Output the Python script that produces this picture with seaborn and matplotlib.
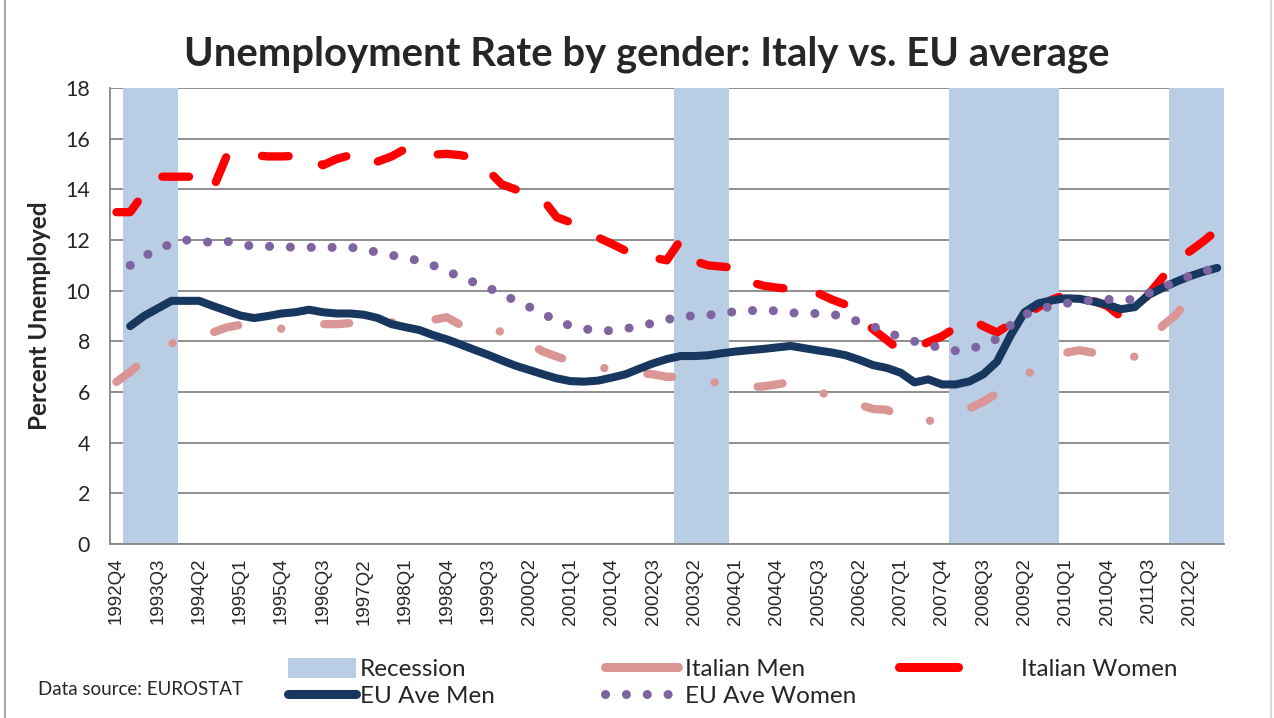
import numpy as np
import pandas as pd
import matplotlib.pyplot as plt
import seaborn as sns
from matplotlib.lines import Line2D
from matplotlib.patches import Patch

sns.set_style("white")
plt.rcParams['font.family'] = ['Lato', 'DejaVu Sans']

# quarters 1992Q4 .. 2012Q4
quarters = ["1992Q4"] + [f"{y}Q{q}" for y in range(1993, 2013) for q in range(1, 5)]

recession_periods = [("1993Q1", "1993Q4"), ("2003Q1", "2003Q4"),
                     ("2008Q1", "2009Q4"), ("2012Q1", "2012Q4")]

italian_men = [6.4, 6.8, 7.25, 7.6, 7.9, 8.15, 8.3, 8.35, 8.55, 8.65,
               8.55, 8.55, 8.5, 8.5, 8.6, 8.68, 8.68, 8.72, 8.78, 8.8,
               8.75, 8.75, 8.8, 8.85, 8.95, 8.65, 8.35, 8.35, 8.4, 8.2,
               7.9, 7.6, 7.4, 7.22, 7.1, 7.0, 6.88, 6.8, 6.75, 6.7,
               6.6, 6.6, 6.6, 6.45, 6.3, 6.25, 6.2, 6.22, 6.3, 6.4,
               6.2, 6.0, 5.85, 5.7, 5.5, 5.33, 5.3, 5.0, 4.8, 4.85,
               4.97, 5.15, 5.35, 5.62, 5.95, 6.25, 6.6, 7.05, 7.4, 7.55,
               7.65, 7.55, 7.5, 7.3, 7.4, 7.58, 8.6, 9.05, 9.75, np.nan,
               np.nan]

italian_women = [13.1, 13.1, 13.85, 14.5, 14.5, 14.5, 14.5, 14.0, 15.3, 15.37,
                 15.35, 15.3, 15.3, 15.32, 15.38, 14.95, 15.2, 15.35, 15.55, 15.1,
                 15.3, 15.6, 15.5, 15.37, 15.4, 15.35, 15.25, 14.75, 14.2, 14.0,
                 13.8, 13.6, 12.9, 12.7, 12.4, 12.1, 11.85, 11.58, 11.5, 11.3,
                 11.2, 12.0, 11.17, 11.0, 10.95, 10.9, 10.35, 10.2, 10.12, 10.07,
                 10.0, 9.9, 9.65, 9.45, 9.0, 8.47, 8.05, 7.62, 7.72, 7.97,
                 8.2, 8.55, 8.9, 8.6, 8.35, 8.7, 9.0, 9.35, 9.65, 9.85,
                 9.75, 9.6, 9.4, 8.97, 9.2, 9.85, 10.5, 11.2, 11.55, 11.95,
                 12.4]

eu_men = [np.nan, 8.6, 9.0, 9.3, 9.6, 9.6, 9.6, 9.4, 9.21, 9.02,
          8.92, 9.0, 9.1, 9.15, 9.25, 9.15, 9.1, 9.1, 9.05, 8.92,
          8.68, 8.56, 8.45, 8.25, 8.08, 7.88, 7.67, 7.47, 7.25, 7.04,
          6.87, 6.7, 6.54, 6.43, 6.41, 6.45, 6.57, 6.7, 6.92, 7.13,
          7.3, 7.42, 7.42, 7.45, 7.53, 7.6, 7.65, 7.7, 7.76, 7.82,
          7.73, 7.64, 7.56, 7.45, 7.27, 7.06, 6.95, 6.76, 6.38, 6.5,
          6.3, 6.3, 6.42, 6.7, 7.2, 8.25, 9.15, 9.5, 9.62, 9.7,
          9.68, 9.57, 9.45, 9.27, 9.35, 9.83, 10.1, 10.35, 10.57, 10.75,
          10.9]

eu_women = [np.nan, 11.0, 11.35, 11.65, 11.85, 12.0, 11.95, 11.9, 11.95, 11.85,
            11.74, 11.75, 11.74, 11.71, 11.71, 11.71, 11.71, 11.71, 11.65, 11.5,
            11.4, 11.3, 11.18, 11.0, 10.8, 10.52, 10.33, 10.12, 9.88, 9.6,
            9.36, 9.1, 8.8, 8.62, 8.5, 8.4, 8.43, 8.5, 8.6, 8.72,
            8.85, 9.0, 9.0, 9.03, 9.12, 9.17, 9.21, 9.24, 9.2, 9.13,
            9.1, 9.1, 9.08, 8.93, 8.77, 8.59, 8.35, 8.17, 8.0, 7.87,
            7.72, 7.63, 7.7, 7.85, 8.1, 8.65, 9.05, 9.25, 9.4, 9.5,
            9.57, 9.63, 9.66, 9.64, 9.65, 9.9, 10.13, 10.35, 10.58, 10.76,
            10.92]

df = pd.DataFrame({"quarter": quarters, "pos": np.arange(len(quarters)),
                   "it_men": italian_men, "it_women": italian_women,
                   "eu_men": eu_men, "eu_women": eu_women})
in_rec = np.zeros(len(quarters), dtype=bool)
for a, b in recession_periods:
    in_rec[quarters.index(a):quarters.index(b) + 1] = True
df["recession"] = np.where(in_rec, 18, 0)

c_rec = "#B9CDE5"
c_itm = "#D99694"
c_itw = "#FF0000"
c_eum = "#17375E"
c_euw = "#8064A2"

fig = plt.figure(figsize=(12.74, 7.18), dpi=100)
ax = fig.add_axes([0.086, 0.2423, 0.8748, 0.6351])

sns.barplot(data=df, x="quarter", y="recession", color=c_rec, width=1.0,
            saturation=1, linewidth=0, errorbar=None, ax=ax)

sns.lineplot(data=df, x="pos", y="it_men", color=c_itm, linewidth=6.0,
             linestyle=(0, (3.0, 5.2, 0.01, 5.2)), dash_capstyle="round",
             estimator=None, errorbar=None, ax=ax)
sns.lineplot(data=df, x="pos", y="it_women", color=c_itw, linewidth=6.0,
             linestyle=(0, (3.2, 4.4)), dash_capstyle="round",
             estimator=None, errorbar=None, ax=ax)
sns.lineplot(data=df, x="pos", y="eu_men", color=c_eum, linewidth=5.8,
             solid_capstyle="round", estimator=None, errorbar=None, ax=ax)
sns.lineplot(data=df, x="pos", y="eu_women", color=c_euw, linewidth=6.5,
             linestyle=(0, (0.01, 2.3)), dash_capstyle="round",
             estimator=None, errorbar=None, ax=ax)

ax.set_xlim(-0.5, len(quarters) - 0.5)
ax.set_ylim(0, 18)
ax.set_yticks(np.arange(0, 19, 2))
ax.set_xticks(np.arange(0, len(quarters), 3))
ax.set_xticklabels(quarters[::3], rotation=90, fontsize=13.5,
                   family=['Liberation Sans', 'DejaVu Sans'])
ax.tick_params(axis="y", labelsize=15.5, length=0, pad=14)
ax.tick_params(axis="x", length=0, pad=10)
ax.yaxis.grid(True, color="#868686", linewidth=1.3)
ax.set_axisbelow(True)
for s in ["top", "right"]:
    ax.spines[s].set_visible(False)
for s in ["left", "bottom"]:
    ax.spines[s].set_color("#868686")
    ax.spines[s].set_linewidth(1.3)
ax.set_xlabel("")
ax.set_ylabel("Percent Unemployed", fontsize=17.5, fontweight="bold", labelpad=10)

fig.text(0.508, 0.925, "Unemployment Rate by gender: Italy vs. EU average",
         ha="center", va="center", fontsize=28.8, fontweight="bold")
fig.text(0.030, 0.039, "Data source: EUROSTAT", ha="left", va="center", fontsize=13.5)

# legend, laid out in three columns like the original
leg_kw = dict(frameon=False, fontsize=17.5, loc="upper left", labelspacing=0.2,
              borderaxespad=0, borderpad=0)
h_rec = Patch(facecolor=c_rec, edgecolor="none")
h_eum = Line2D([], [], color=c_eum, lw=6.5, solid_capstyle="round")
h_itm = Line2D([], [], color=c_itm, lw=6.5, solid_capstyle="round")
h_euw = Line2D([], [], color=c_euw, lw=6.5, linestyle=(0, (0.01, 2.3)),
               dash_capstyle="round")
h_itw = Line2D([], [], color=c_itw, lw=6.5, solid_capstyle="round")
fig.legend([h_rec, h_eum], ["Recession", "EU Ave Men"], bbox_to_anchor=(0.226, 0.084),
           handlelength=2.8, handleheight=0.9, handletextpad=0.15, **leg_kw)
fig.legend([h_itm, h_euw], ["Italian Men", "EU Ave Women"], bbox_to_anchor=(0.475, 0.084),
           handlelength=3.0, handleheight=0.9, handletextpad=0.3, **leg_kw)
fig.legend([h_itw], ["Italian Women"], bbox_to_anchor=(0.706, 0.084),
           handlelength=2.4, handleheight=0.9, handletextpad=2.6, **leg_kw)

# chart-area border
fig.add_artist(Line2D([0.004, 0.004], [0, 1], color="#A6A6A6", lw=1.5))
fig.add_artist(Line2D([0.998, 0.998], [0, 1], color="#D9D9D9", lw=1.5))

fig.savefig("out.png", dpi=100)
